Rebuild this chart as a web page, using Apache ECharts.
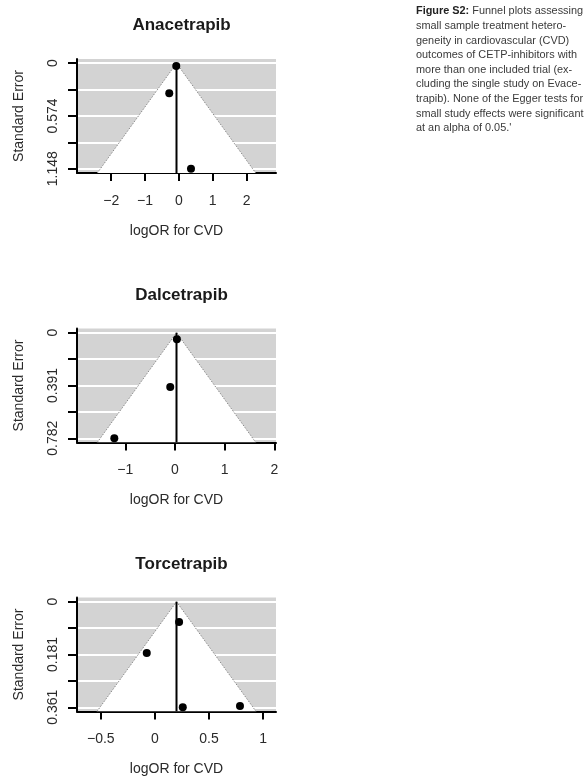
<!DOCTYPE html>
<html>
<head>
<meta charset="utf-8">
<style>
  html, body { margin: 0; padding: 0; background: #fff; }
  #chart { width: 584px; height: 780px; }
</style>
<script src="https://cdn.jsdelivr.net/npm/echarts@6/dist/echarts.min.js"></script>
</head>
<body>
<div id="chart"></div>
<script>
// funnel plots, one panel per drug
const titles = ['Anacetrapib', 'Dalcetrapib', 'Torcetrapib']
const pooled = [-0.07, 0.03, 0.2]          // summary logOR (vertical line / funnel apex)
const maxSE = [1.148, 0.782, 0.361]
const xMin = [-3.01, -1.97, -0.72]
const xMax = [2.87, 2.03, 1.12]
const xTicks = [[-2, -1, 0, 1, 2], [-1, 0, 1, 2], [-0.5, 0, 0.5, 1]]
const yTickLabels = [['0', '0.574', '1.148'], ['0', '0.391', '0.782'], ['0', '0.181', '0.361']]

const anaLogOR = [-0.077, -0.284, 0.358]
const anaSE = [0.03, 0.327, 1.148]
const dalLogOR = [0.038, -0.096, -1.22]
const dalSE = [0.049, 0.402, 0.782]
const torLogOR = [0.224, -0.075, 0.258, 0.787]
const torSE = [0.069, 0.175, 0.361, 0.357]

const studyX = [anaLogOR, dalLogOR, torLogOR]
const studySE = [anaSE, dalSE, torSE]

const captionLines = [
  '{b|Figure S2:} Funnel plots assessing',
  'small sample treatment hetero-',
  'geneity in cardiovascular (CVD)',
  'outcomes of CETP-inhibitors with',
  'more than one included trial (ex-',
  'cluding the single study on Evace-',
  'trapib). None of the Egger tests for',
  'small study effects were significant',
  "at an alpha of 0.05.'"
]

const FONT = "'Liberation Sans', Arial, sans-serif"
const gridTops = [59, 328.5, 597.5]
const minus = (v) => String(v).replace('-', '\u2212')

const grids = [], xAxes = [], yAxes = [], series = [], titleList = []

titles.forEach((name, i) => {
  const m = maxSE[i]
  const yLo = -0.04 * m, yHi = 1.04 * m
  grids.push({
    left: 77, width: 199, top: gridTops[i], height: 114,
    show: true, backgroundColor: '#d3d3d3', borderWidth: 0
  })
  titleList.push({
    text: name, left: 176.5, top: gridTops[i] - 47, textAlign: 'center',
    textStyle: { fontFamily: FONT, fontSize: 17, fontWeight: 'bold', color: '#1a1a1a' }
  })
  xAxes.push({
    type: 'value', gridIndex: i, min: xMin[i], max: xMax[i],
    name: 'logOR for CVD', nameLocation: 'middle', nameGap: 51,
    nameTextStyle: { fontFamily: FONT, fontSize: 14, color: '#2a2a2a' },
    axisLine: { onZero: false, lineStyle: { color: '#000', width: 2 } },
    axisTick: { show: true, length: 8, customValues: xTicks[i], lineStyle: { color: '#000', width: 2 } },
    axisLabel: {
      customValues: xTicks[i], margin: 21, formatter: (v) => minus(v),
      fontFamily: FONT, fontSize: 14, color: '#2a2a2a'
    },
    splitLine: { show: false }
  })
  const tickVals = [0, 0.25 * m, 0.5 * m, 0.75 * m, m]
  const labelVals = [0, 0.5 * m, m]
  yAxes.push({
    type: 'value', gridIndex: i, inverse: true, min: yLo, max: yHi,
    name: 'Standard Error', nameLocation: 'middle', nameGap: 51,
    nameTextStyle: { fontFamily: FONT, fontSize: 14, color: '#2a2a2a' },
    axisLine: { onZero: false, lineStyle: { color: '#000', width: 2 } },
    axisTick: { show: true, length: 9, customValues: tickVals, lineStyle: { color: '#000', width: 2 } },
    axisLabel: {
      customValues: labelVals, rotate: 90, margin: 17,
      formatter: (v) => yTickLabels[i][labelVals.findIndex((t) => Math.abs(t - v) < 1e-9)],
      fontFamily: FONT, fontSize: 14, color: '#2a2a2a'
    },
    splitLine: { show: true, lineStyle: { color: '#fff', width: 2 } }
  })
  // pseudo confidence funnel + summary line
  series.push({
    type: 'custom', xAxisIndex: i, yAxisIndex: i, clip: true, z: 3, silent: true,
    data: [[pooled[i], yHi]],
    renderItem: (params, api) => {
      const c = api.value(0), b = api.value(1)
      const apex = api.coord([c, 0])
      const left = api.coord([c - 1.96 * b, b])
      const right = api.coord([c + 1.96 * b, b])
      const bottom = api.coord([c, b])
      return {
        type: 'group',
        children: [
          { type: 'polygon', shape: { points: [apex, left, right] }, style: { fill: '#fff' } },
          { type: 'polyline', shape: { points: [left, apex, right] },
            style: { stroke: '#8a8a8a', lineWidth: 1, lineDash: [1.5, 1.5], fill: null } },
          { type: 'line', shape: { x1: apex[0], y1: apex[1], x2: bottom[0], y2: bottom[1] },
            style: { stroke: '#000', lineWidth: 2 } }
        ]
      }
    }
  })
  series.push({
    type: 'scatter', xAxisIndex: i, yAxisIndex: i, z: 5,
    symbol: 'circle', symbolSize: 8, itemStyle: { color: '#000', opacity: 1 },
    data: studyX[i].map((x, k) => [x, studySE[i][k]])
  })
})

const chart = echarts.init(document.getElementById('chart'), null, { renderer: 'canvas' })
chart.setOption({
  animation: false,
  title: titleList,
  grid: grids,
  xAxis: xAxes,
  yAxis: yAxes,
  series: series,
  graphic: [{
    type: 'text', left: 416, top: 4,
    style: {
      text: captionLines.join('\n'),
      fontFamily: FONT, fontSize: 10.9, lineHeight: 14.6, fill: '#3a3a3a',
      rich: { b: { fontFamily: FONT, fontSize: 10.9, fontWeight: 'bold', lineHeight: 14.6, fill: '#222' } }
    }
  }]
})
</script>
</body>
</html>
